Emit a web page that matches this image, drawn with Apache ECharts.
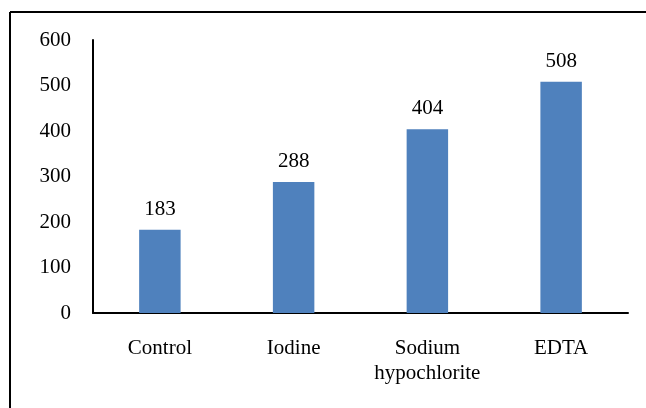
<!DOCTYPE html>
<html>
<head>
<meta charset="utf-8">
<script src="https://cdn.jsdelivr.net/npm/echarts@6/dist/echarts.min.js"></script>
<style>html,body{margin:0;padding:0;background:#fff}#c{width:646px;height:408px}</style>
</head>
<body>
<div id="c"></div>
<script>
var categories = ['Control', 'Iodine', 'Sodium\nhypochlorite', 'EDTA'];
var values = [183, 288, 404, 508];
var yTicks = [0, 100, 200, 300, 400, 500, 600];

var chart = echarts.init(document.getElementById('c'), null, {renderer: 'canvas'});
var font = '"Liberation Serif", "Times New Roman", serif';
chart.setOption({
  animation: false,
  backgroundColor: '#fff',
  grid: {left: 93, right: 18, top: 40, bottom: 95, containLabel: false},
  xAxis: {
    type: 'category',
    data: categories,
    axisLine: {lineStyle: {color: '#000', width: 2}},
    axisTick: {show: false},
    axisLabel: {color: '#000', fontFamily: font, fontSize: 21, margin: 23, lineHeight: 25, interval: 0}
  },
  yAxis: {
    type: 'value',
    min: yTicks[0],
    max: yTicks[yTicks.length - 1],
    interval: 100,
    axisLine: {show: true, lineStyle: {color: '#000', width: 2}},
    axisTick: {show: false},
    splitLine: {show: false},
    axisLabel: {color: '#000', fontFamily: font, fontSize: 21, margin: 22}
  },
  series: [{
    type: 'bar',
    data: values,
    barWidth: '31%',
    itemStyle: {color: '#4F81BD'},
    label: {show: true, position: 'top', distance: 10, color: '#000', fontFamily: font, fontSize: 21}
  }],
  graphic: [
    {type: 'line', shape: {x1: 10, y1: 12, x2: 646, y2: 12}, style: {stroke: '#000', lineWidth: 2}},
    {type: 'line', shape: {x1: 10, y1: 12, x2: 10, y2: 408}, style: {stroke: '#000', lineWidth: 2}}
  ]
});
</script>
</body>
</html>
